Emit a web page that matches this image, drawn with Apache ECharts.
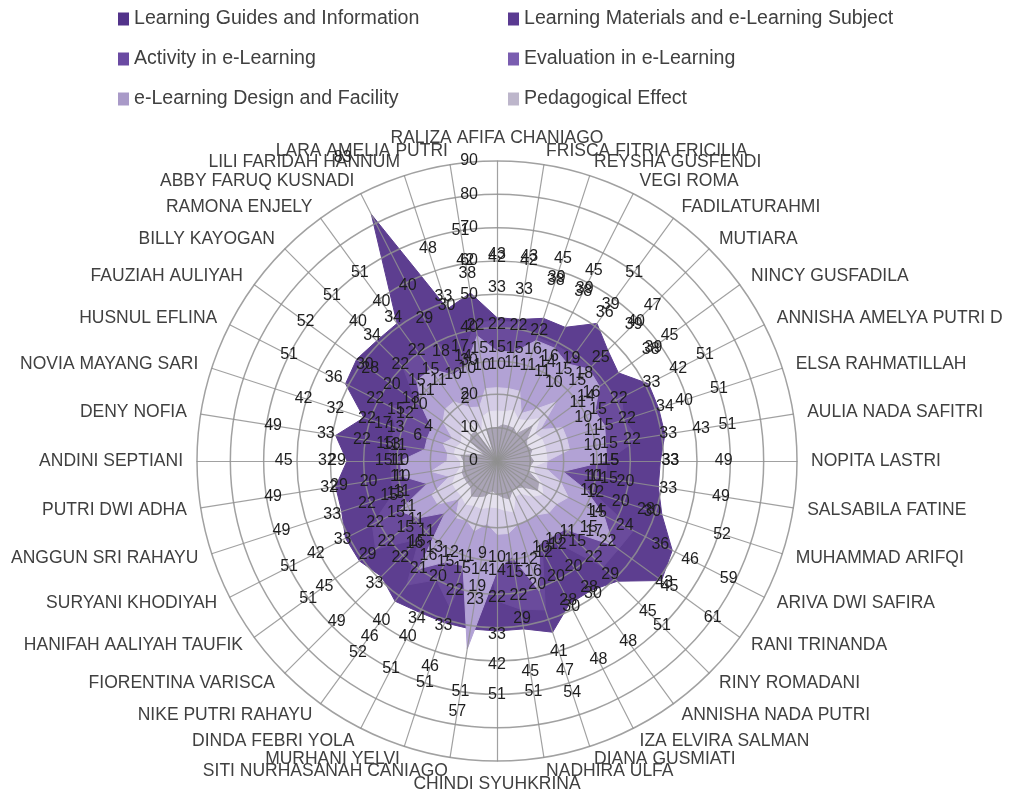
<!DOCTYPE html>
<html><head><meta charset="utf-8">
<script src="https://cdn.jsdelivr.net/npm/echarts@6/dist/echarts.min.js"></script>
<style>html,body{margin:0;padding:0;background:#fff}#c{width:1022px;height:798px}</style>
</head><body><div id="c"></div>
<script>
const categories = ["RALIZA AFIFA CHANIAGO","FRISCA FITRIA FRICILIA","REYSHA GUSFENDI","VEGI ROMA","FADILATURAHMI","MUTIARA","NINCY GUSFADILA","ANNISHA AMELYA PUTRI D","ELSA RAHMATILLAH","AULIA NADA SAFITRI","NOPITA LASTRI","SALSABILA FATINE","MUHAMMAD ARIFQI","ARIVA DWI SAFIRA","RANI TRINANDA","RINY ROMADANI","ANNISHA NADA PUTRI","IZA ELVIRA SALMAN","DIANA GUSMIATI","NADHIRA ULFA","CHINDI SYUHKRINA","SITI NURHASANAH CANIAGO","MURHANI YELVI","DINDA FEBRI YOLA","NIKE PUTRI RAHAYU","FIORENTINA VARISCA","HANIFAH AALIYAH TAUFIK","SURYANI KHODIYAH","ANGGUN SRI RAHAYU","PUTRI DWI ADHA","ANDINI SEPTIANI","DENY NOFIA","NOVIA MAYANG SARI","HUSNUL EFLINA","FAUZIAH AULIYAH","BILLY KAYOGAN","RAMONA ENJELY","ABBY FARUQ KUSNADI","LILI FARIDAH HANNUM","LARA AMELIA PUTRI"];
const seriesNames = ["Learning Guides and Information","Learning Materials and e-Learning Subject","Activity in e-Learning","Evaluation in e-Learning","e-Learning Design and Facility","Pedagogical Effect"];
const guides      = [43,43,45,45,51,47,45,51,51,51,49,49,52,59,61,51,48,48,54,51,51,51,51,51,52,49,51,51,49,49,45,49,42,51,52,51,51,83,48,51];
const materials   = [42,42,39,39,39,40,39,42,40,43,33,33,30,46,45,45,30,30,47,45,42,23,46,40,46,33,45,42,33,32,32,33,32,36,30,40,40,40,33,42];
const activity    = [33,33,38,38,36,39,38,33,34,33,33,20,28,36,43,29,28,28,41,29,33,57,33,34,40,22,29,33,22,29,29,22,22,22,28,34,34,29,30,38];
const evaluation  = [22,22,22,16,19,25,16,22,22,22,15,15,20,24,22,22,20,20,20,22,22,19,22,20,21,16,22,22,15,20,15,15,17,15,20,22,22,18,17,22];
const design      = [15,15,16,14,15,18,14,15,15,15,15,11,12,15,17,15,12,12,16,15,14,14,15,15,16,15,15,15,13,11,11,13,13,12,13,15,15,10,14,15];
const pedagogical = [10,11,11,11,10,15,11,10,11,10,11,10,10,14,15,11,10,10,12,11,10,9,11,12,13,11,11,11,11,10,10,11,6,4,10,11,11,2,10,10];
const radialTicks = [0,10,20,30,40,50,60,70,80,90];

const allSeries = [guides, materials, activity, evaluation, design, pedagogical];
const legendColors = ["#52338a","#5a3a91","#6a4aa2","#7a5db0","#a99ac8","#bdb6cb"];
const fillColors   = ["#5d3e90","#6a4b9c","#b2a2d5","#d4cce6","#e5e1ee","#aaa4b6"];
const LABEL_SHIFT = 19;
const FONT = "Liberation Sans";

// ECharts radar runs counter-clockwise; reorder so the chart reads clockwise like the original
const N = categories.length;
const ORDER = categories.map((_, i) => (N - i) % N);

const chart = echarts.init(document.getElementById('c'));
const series = [];
allSeries.forEach((arr, k) => {
  series.push({
    type: 'radar', name: seriesNames[k], z: 2,
    symbol: 'none',
    itemStyle: {color: legendColors[k]},
    lineStyle: {color: fillColors[k], width: 1},
    areaStyle: {color: fillColors[k], opacity: 1},
    data: [{value: ORDER.map(i => arr[i]), name: seriesNames[k]}]
  });
});
allSeries.forEach((arr, k) => {
  series.push({
    type: 'radar', name: 'lbl' + k, z: 5, silent: true,
    symbol: 'circle', symbolSize: 1,
    itemStyle: {color: 'rgba(0,0,0,0)'},
    lineStyle: {width: 0, opacity: 0},
    label: {show: true, position: 'inside', fontFamily: FONT, fontSize: 16, color: '#1e1e1e',
            formatter: p => String(Math.round(p.value - LABEL_SHIFT))},
    data: [{value: ORDER.map(i => arr[i] + LABEL_SHIFT)}]
  });
});

const legendCommon = {orient: 'vertical', top: 4, itemGap: 20, itemWidth: 11, itemHeight: 13, icon: 'rect',
  textStyle: {fontFamily: FONT, fontSize: 19.6, color: '#404040'}};

chart.setOption({
  animation: false,
  backgroundColor: '#ffffff',
  legend: [
    Object.assign({data: [seriesNames[0], seriesNames[2], seriesNames[4]], left: 113}, legendCommon),
    Object.assign({data: [seriesNames[1], seriesNames[3], seriesNames[5]], left: 503}, legendCommon)
  ],
  radar: {
    z: 3,
    center: [497, 461], radius: 300, startAngle: 90, shape: 'circle', splitNumber: 9,
    indicator: ORDER.map(i => ({name: categories[i], min: 0, max: 90})),
    nameGap: 14,
    axisName: {color: '#404040', fontFamily: FONT, fontSize: 17.5},
    axisLine: {lineStyle: {color: 'rgba(145,145,145,0.85)', width: 1.2}},
    splitLine: {lineStyle: {color: 'rgba(145,145,145,0.85)', width: 1.5}},
    splitArea: {show: false},
    axisTick: {show: false},
    axisLabel: {show: false}
  },
  polar: {center: [497, 461], radius: 300},
  angleAxis: {type: 'value', min: 0, max: 360, show: false},
  radiusAxis: {
    type: 'value', min: radialTicks[0], max: radialTicks[radialTicks.length - 1], interval: 10, z: 4,
    axisLine: {show: false}, axisTick: {show: false}, splitLine: {show: false},
    axisLabel: {fontFamily: FONT, fontSize: 16, color: '#1e1e1e', margin: 19}
  },
  series: series
});
</script></body></html>
